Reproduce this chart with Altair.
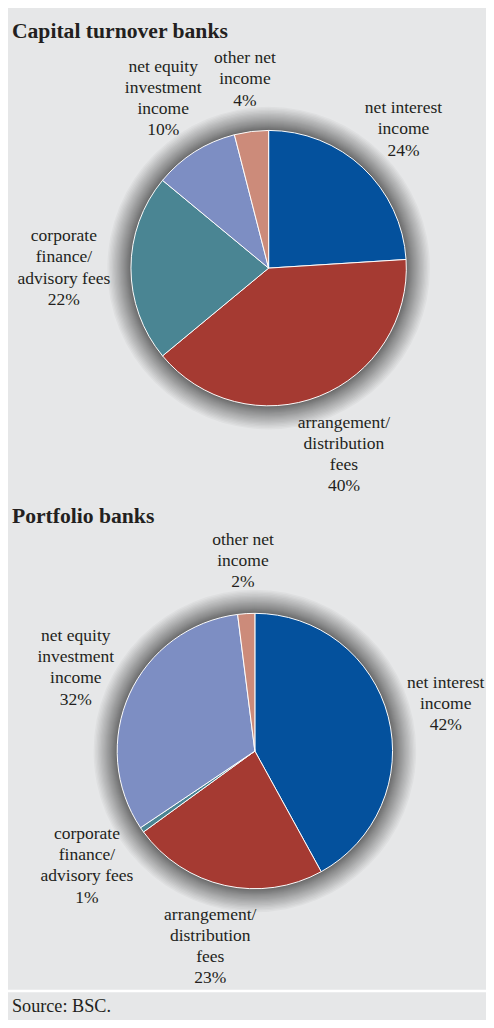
import altair as alt
import pandas as pd

categories = [
    "net interest income",
    "arrangement/distribution fees",
    "corporate finance/advisory fees",
    "net equity investment income",
    "other net income",
]
capital_values = [24, 40, 22, 10, 4]
portfolio_values = [42, 23, 0.6, 32.4, 2]
capital_labels = [
    "net interest\nincome\n24%",
    "arrangement/\ndistribution\nfees\n40%",
    "corporate\nfinance/\nadvisory fees\n22%",
    "net equity\ninvestment\nincome\n10%",
    "other net\nincome\n4%",
]
portfolio_labels = [
    "net interest\nincome\n42%",
    "arrangement/\ndistribution\nfees\n23%",
    "corporate\nfinance/\nadvisory fees\n1%",
    "net equity\ninvestment\nincome\n32%",
    "other net\nincome\n2%",
]
slice_colors = ["#04519d", "#a53a32", "#4a8593", "#7d8ec3", "#cc8b7a"]
panel_titles = ["Capital turnover banks", "Portfolio banks"]
source_note = "Source: BSC."

BG = "#e6e7e8"
TEXT = "#231f20"
FONT = "Liberation Serif"
R = 140          # pie radius (px)
GAP = 21         # gap between pie edge and label box
LH = 21.5
FS = 17.8

# approximate Times advance widths (em) used to size label boxes
_W = {"a": .444, "b": .5, "c": .444, "d": .5, "e": .444, "f": .333, "g": .5,
      "h": .5, "i": .278, "j": .278, "k": .5, "l": .278, "m": .778, "n": .5,
      "o": .5, "p": .5, "q": .5, "r": .333, "s": .389, "t": .278, "u": .5,
      "v": .5, "w": .722, "x": .5, "y": .5, "z": .444, " ": .25, "/": .278,
      "%": .833}


def text_half_width(label):
    return max(sum(_W.get(c, .5) for c in line) for line in label.split("\n")) * FS / 2


def make_df(values, labels):
    return pd.DataFrame({
        "category": categories,
        "value": values,
        "label": labels,
        "idx": list(range(len(categories))),
        "hw": [text_half_width(s) for s in labels],
    })


color_scale = alt.Scale(domain=categories, range=slice_colors)


def pie(df, cx, cy):
    one = pd.DataFrame({"k": [0]})
    layers = []
    n_sh = 24
    for k in range(1, n_sh + 1):
        layers.append(
            alt.Chart(one).mark_arc(
                theta=0, theta2=6.2832, radius=R + 24 * (k / n_sh) ** 1.5,
                color="#000000", opacity=0.032,
            ).encode(x=alt.value(cx), y=alt.value(cy))
        )
    arcs = alt.Chart(df).mark_arc(radius=R, stroke="white", strokeWidth=1).encode(
        theta=alt.Theta("value:Q", stack=True),
        order=alt.Order("idx:Q"),
        color=alt.Color("category:N", scale=color_scale, legend=None),
        x=alt.value(cx),
        y=alt.value(cy),
    )
    layers.append(arcs)
    rg = R + GAP
    lab = alt.Chart(df).transform_window(
        cum="sum(value)", sort=[alt.SortField("idx")]
    ).transform_joinaggregate(
        total="sum(value)"
    ).transform_calculate(
        ang="2 * PI * (datum.cum - datum.value / 2) / datum.total",
        nl="length(split(datum.label, '\\n'))",
    ).transform_calculate(
        px=f"{cx} + ({rg} + datum.hw) * sin(datum.ang)",
        py=f"{cy} - ({rg} + datum.nl * {LH} / 2) * cos(datum.ang) - (datum.nl - 1) * {LH} / 2",
    ).mark_text(
        font=FONT, fontSize=FS, lineHeight=LH, lineBreak="\n", color=TEXT,
        align="center", baseline="middle",
    ).encode(
        x=alt.X("px:Q", scale=None),
        y=alt.Y("py:Q", scale=None),
        text="label:N",
    )
    layers.append(lab)
    return alt.layer(*layers).resolve_scale(theta="independent")


titles_df = pd.DataFrame({"t": panel_titles})
t1 = alt.Chart(titles_df.iloc[[0]]).mark_text(
    font=FONT, fontSize=22, fontWeight="bold", color=TEXT, align="left",
    baseline="alphabetic",
).encode(text="t:N", x=alt.value(4), y=alt.value(22))
t2 = alt.Chart(titles_df.iloc[[1]]).mark_text(
    font=FONT, fontSize=22, fontWeight="bold", color=TEXT, align="left",
    baseline="alphabetic",
).encode(text="t:N", x=alt.value(4), y=alt.value(515))

sep = alt.Chart(pd.DataFrame({"k": [0]})).mark_rule(
    color="white", strokeWidth=2.5
).encode(x=alt.value(-10), x2=alt.value(500), y=alt.value(991))

src = alt.Chart(pd.DataFrame({"s": [source_note]})).mark_text(
    font=FONT, fontSize=18.5, color=TEXT, align="left", baseline="middle",
).encode(text="s:N", x=alt.value(4), y=alt.value(1006))

p1 = pie(make_df(capital_values, capital_labels), 265, 256)
p2 = pie(make_df(portfolio_values, portfolio_labels), 251, 747)

chart = alt.layer(t1, t2, p1, p2, sep, src).resolve_scale(
    theta="independent"
).properties(
    width=486, height=1012, background=BG, padding=0,
    autosize=alt.AutoSizeParams(type="none"),
).configure_view(stroke=None).configure_text(font=FONT)

chart.save("out.html", embed_options={"renderer": "svg", "actions": False})
